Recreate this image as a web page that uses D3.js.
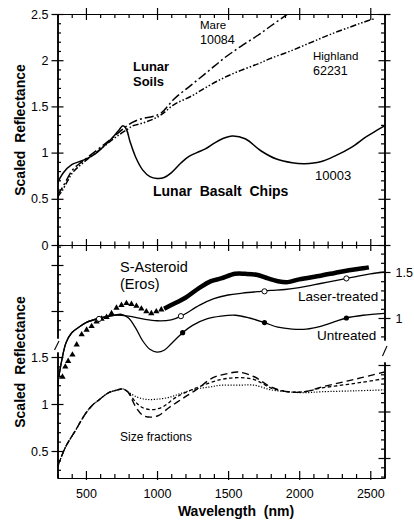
<!DOCTYPE html>
<html>
<head>
<meta charset="utf-8">
<script src="https://cdn.jsdelivr.net/npm/d3@7"></script>
<style>
body { margin: 0; background: #fff; }
svg { display: block; }
text { font-family: "Liberation Sans", Arial, Helvetica, sans-serif; fill: #000; }
.axis path, .axis line { stroke: #000; stroke-width: 1.2; }
.axis text { font-size: 12.5px; font-family: "Liberation Sans", Arial, sans-serif; }
</style>
</head>
<body>
<svg id="chart" width="414" height="521"></svg>
<script>
// [wavelength nm, scaled reflectance]  -- top panel
const basalt10003 = [[300,0.67],[340,0.78],[400,0.87],[450,0.90],[500,0.93],[560,0.98],[620,1.06],[680,1.15],[730,1.24],[760,1.29],[785,1.25],[810,1.12],[850,0.95],[900,0.81],[950,0.74],[1000,0.72],[1050,0.73],[1100,0.78],[1170,0.89],[1225,0.96],[1280,1.00],[1340,1.04],[1400,1.10],[1460,1.15],[1530,1.18],[1620,1.15],[1730,1.02],[1840,0.93],[1950,0.89],[2040,0.88],[2150,0.90],[2260,0.97],[2370,1.06],[2470,1.17],[2545,1.24],[2600,1.29]];
const mare10084 = [[300,0.54],[330,0.61],[370,0.72],[410,0.82],[480,0.91],[580,1.03],[670,1.14],[740,1.23],[790,1.29],[830,1.33],[900,1.37],[970,1.39],[1030,1.43],[1120,1.58],[1240,1.73],[1360,1.88],[1470,2.02],[1590,2.15],[1710,2.27],[1800,2.37],[1910,2.49],[1950,2.53]];
const highland62231 = [[300,0.52],[330,0.58],[370,0.69],[410,0.79],[480,0.89],[580,1.01],[670,1.12],[740,1.20],[790,1.25],[830,1.29],[900,1.32],[970,1.36],[1030,1.41],[1120,1.52],[1240,1.61],[1360,1.72],[1470,1.81],[1590,1.89],[1710,1.96],[1800,2.02],[1940,2.10],[2080,2.19],[2220,2.28],[2360,2.36],[2450,2.41],[2530,2.45]];

// bottom panel, upper group (right-hand scale)
const laserTreated = [[300,0.27],[330,0.54],[360,0.73],[400,0.84],[450,0.90],[500,0.95],[600,1.00],[700,1.03],[800,1.02],[900,0.99],[1000,0.97],[1100,0.98],[1170,1.02],[1300,1.14],[1400,1.21],[1500,1.25],[1600,1.27],[1730,1.29],[1800,1.30],[1900,1.31],[2000,1.33],[2100,1.36],[2200,1.39],[2300,1.42],[2400,1.45],[2500,1.48],[2600,1.50]];
const laserMarks = [[592,0.99],[1168,1.02],[1756,1.29],[2332,1.43]];
const untreated = [[300,0.27],[330,0.54],[360,0.73],[400,0.84],[450,0.90],[500,0.95],[600,1.00],[700,1.03],[750,1.04],[800,1.00],[850,0.89],[900,0.75],[950,0.66],[1000,0.63],[1050,0.65],[1100,0.72],[1180,0.84],[1250,0.92],[1350,0.99],[1450,1.02],[1550,1.03],[1650,1.00],[1756,0.95],[1850,0.90],[1950,0.88],[2050,0.88],[2150,0.91],[2250,0.96],[2332,1.00],[2450,1.03],[2600,1.05]];
const untreatedMarks = [[1180,0.84],[1756,0.95],[2332,1.00]];
const erosTelescopic = [[335,0.36],[355,0.47],[375,0.53],[405,0.60],[435,0.71],[470,0.82],[505,0.87],[540,0.91],[575,0.96],[610,0.99],[645,1.01],[680,1.05],[715,1.11],[750,1.14],[785,1.16],[820,1.15],[855,1.13],[890,1.10],[925,1.07],[960,1.05],[995,1.07],[1030,1.09]];
const erosNIS = [[1050,1.10],[1100,1.14],[1200,1.22],[1300,1.33],[1380,1.40],[1450,1.43],[1550,1.48],[1620,1.48],[1700,1.47],[1780,1.43],[1850,1.40],[1920,1.39],[2000,1.42],[2150,1.46],[2250,1.49],[2350,1.52],[2450,1.54],[2490,1.55]];

// bottom panel, lower group (left-hand scale): size fractions
const sizeFine = [[300,0.33],[356,0.54],[427,0.72],[498,0.90],[547,0.99],[589,1.04],[660,1.12],[723,1.15],[759,1.16],[794,1.13],[850,1.08],[921,1.05],[992,1.05],[1083,1.07],[1182,1.12],[1274,1.16],[1366,1.18],[1450,1.20],[1570,1.20],[1683,1.20],[1803,1.15],[1923,1.13],[2036,1.12],[2156,1.13],[2389,1.14],[2600,1.15]];
const sizeMid = [[300,0.33],[356,0.54],[427,0.72],[498,0.90],[547,0.99],[589,1.04],[660,1.12],[723,1.15],[759,1.16],[794,1.13],[850,1.02],[900,0.96],[970,0.94],[1041,0.97],[1133,1.07],[1274,1.17],[1450,1.26],[1570,1.28],[1683,1.26],[1803,1.17],[1923,1.13],[2036,1.13],[2156,1.17],[2297,1.20],[2438,1.23],[2600,1.27]];
const sizeCoarse = [[300,0.33],[356,0.54],[427,0.72],[498,0.90],[547,0.99],[589,1.04],[660,1.12],[723,1.15],[759,1.16],[794,1.13],[850,0.97],[900,0.88],[956,0.86],[1013,0.88],[1083,0.96],[1182,1.06],[1274,1.15],[1394,1.28],[1486,1.32],[1570,1.34],[1683,1.29],[1803,1.18],[1923,1.13],[2036,1.13],[2156,1.18],[2297,1.23],[2438,1.28],[2600,1.34]];

const xMajors = [500, 1000, 1500, 2000, 2500];
const xMinors = d3.range(3, 27).map(i => i * 100).filter(v => v % 500 !== 0);
const topMajors = [0, 0.5, 1, 1.5, 2, 2.5];

const svg = d3.select("#chart");
const L = 57.5, R = 384.5, T = 14, MID = 245, B = 478;

const x = d3.scaleLinear().domain([300, 2600]).range([L, R]);
const yTop = d3.scaleLinear().domain([0, 2.5]).range([MID, T]);
const yAst = d3.scaleLinear().domain([1, 1.5]).range([318, 272]);
const yAstLeft = d3.scaleLinear().domain([1, 1.5]).range([311, 265]);
const yLow = d3.scaleLinear().domain([0.5, 1.5]).range([451, 357]);
const yLowRight = d3.scaleLinear().domain([0.5, 1.5]).range([458, 365]);

const fmt = d3.format("~g");

// clip areas
const defs = svg.append("defs");
defs.append("clipPath").attr("id", "clipTop").append("rect")
    .attr("x", L).attr("y", T).attr("width", R - L).attr("height", MID - T);
defs.append("clipPath").attr("id", "clipBot").append("rect")
    .attr("x", L).attr("y", MID).attr("width", R - L).attr("height", B - MID);

// segment of a scale between two pixel positions
function segment(scale, p0, p1) {
    return scale.copy().domain([scale.invert(p0), scale.invert(p1)]).range([p0, p1]);
}

function minorsOf(s, step) {
    const [a, b] = d3.extent(s.domain());
    const out = [];
    for (let i = Math.ceil(a / step - 1e-6); i <= Math.floor(b / step + 1e-6); i++) {
        const v = +(i * step).toFixed(3);
        if (Math.abs(v / 0.5 - Math.round(v / 0.5)) > 1e-6) out.push(v);
    }
    return out;
}

function vAxis(side, s, xPos, majors, labelled) {
    const mk = side === "left" ? d3.axisLeft : d3.axisRight;
    const inMaj = majors.filter(v => v >= d3.min(s.domain()) - 1e-6 && v <= d3.max(s.domain()) + 1e-6);
    const g = svg.append("g").attr("class", "axis").attr("transform", `translate(${xPos},0)`);
    g.append("g").call(mk(s).tickValues(inMaj).tickSizeInner(6).tickSizeOuter(0).tickPadding(3)
        .tickFormat(labelled ? fmt : ""));
    g.append("g").call(mk(s).tickValues(inMaj).tickSizeInner(-6).tickSizeOuter(0).tickFormat(""));
    g.append("g").call(mk(s).tickValues(minorsOf(s, 0.1)).tickSizeInner(-3.5).tickSizeOuter(0).tickFormat(""));
    g.selectAll("text").style("font-size", "12.5px");
    return g;
}

function hAxis(yPos, upOut, upIn, downMaj, downMin, labelled) {
    const g = svg.append("g").attr("class", "axis").attr("transform", `translate(0,${yPos})`);
    // upward ticks use negative size on axisBottom
    g.append("g").call(d3.axisBottom(x).tickValues(xMajors).tickSizeInner(-upOut).tickSizeOuter(0).tickFormat(""));
    g.append("g").call(d3.axisBottom(x).tickValues(xMinors).tickSizeInner(-upIn).tickSizeOuter(0).tickFormat(""));
    const lab = g.append("g").call(d3.axisBottom(x).tickValues(xMajors).tickSizeInner(downMaj).tickSizeOuter(0)
        .tickPadding(labelled ? 9 : 3).tickFormat(labelled ? fmt : ""));
    if (downMin) g.append("g").call(d3.axisBottom(x).tickValues(xMinors).tickSizeInner(downMin).tickSizeOuter(0).tickFormat(""));
    lab.selectAll("text").style("font-size", "12.5px");
    return g;
}

// top panel axes
vAxis("left", yTop, L, topMajors, true);
vAxis("right", yTop, R, topMajors, false);
hAxis(T, 6, 0, 6, 4, false);
hAxis(MID, 6, 3.5, 6, 3.5, false);

// bottom panel axes (broken)
vAxis("left", segment(yAstLeft, MID, 338), L, [1, 1.5], false);
vAxis("left", segment(yLow, 352, B), L, [0.5, 1, 1.5], true);
vAxis("right", segment(yAst, MID, 340), R, [1, 1.5], true)
    .selectAll("text").attr("x", 11);
vAxis("right", segment(yLowRight, 362, B), R, [0.5, 1, 1.5], false);
hAxis(B, 7, 4, 2, 0, true);

// axis break marks
svg.append("line").attr("x1", L - 3).attr("y1", 350).attr("x2", L + 1.5).attr("y2", 341)
    .attr("stroke", "#000").attr("stroke-width", 1.1);
svg.append("line").attr("x1", R - 2).attr("y1", 356).attr("x2", R + 2.5).attr("y2", 346)
    .attr("stroke", "#000").attr("stroke-width", 1.1);

// curves
function curve(yScale) {
    return d3.line().x(d => x(d[0])).y(d => yScale(d[1])).curve(d3.curveCatmullRom.alpha(0.5));
}
const gTop = svg.append("g").attr("clip-path", "url(#clipTop)");
const gBot = svg.append("g").attr("clip-path", "url(#clipBot)");

function drawLine(g, data, yScale, width, dash) {
    return g.append("path").datum(data).attr("d", curve(yScale))
        .attr("fill", "none").attr("stroke", "#000").attr("stroke-width", width)
        .attr("stroke-dasharray", dash || null);
}

drawLine(gTop, basalt10003, yTop, 1.5);
drawLine(gTop, mare10084, yTop, 1.5, "9,3,2,3");
drawLine(gTop, highland62231, yTop, 1.5, "6,2,1.5,2,1.5,2");

drawLine(gBot, laserTreated, yAst, 1.3);
drawLine(gBot, untreated, yAst, 1.3);
drawLine(gBot, erosNIS, yAst, 4.5).attr("stroke-linecap", "butt");

gBot.selectAll("path.tri").data(erosTelescopic).join("path").attr("class", "tri")
    .attr("d", d3.symbol(d3.symbolTriangle).size(17))
    .attr("transform", d => `translate(${x(d[0])},${yAst(d[1])})`)
    .attr("fill", "#000");
gBot.selectAll("circle.open").data(laserMarks).join("circle").attr("class", "open")
    .attr("cx", d => x(d[0])).attr("cy", d => yAst(d[1])).attr("r", 2.6)
    .attr("fill", "#fff").attr("stroke", "#000").attr("stroke-width", 1);
gBot.selectAll("circle.filled").data(untreatedMarks).join("circle").attr("class", "filled")
    .attr("cx", d => x(d[0])).attr("cy", d => yAst(d[1])).attr("r", 2.6)
    .attr("fill", "#000");

drawLine(gBot, sizeCoarse, yLow, 1.4, "7,4");
drawLine(gBot, sizeMid, yLow, 1.3, "3.5,2.5");
drawLine(gBot, sizeFine, yLow, 1.2, "1.2,1.6");

// labels
function label(txt, px, py, size, bold, anchor) {
    return svg.append("text").attr("x", px).attr("y", py).text(txt)
        .style("font-size", size + "px").style("font-weight", bold ? "bold" : "normal")
        .attr("text-anchor", anchor || "start");
}
label("Mare", 200, 29, 11.5);
label("10084", 200, 44, 12.5);
label("Lunar", 133, 71, 13, true);
label("Soils", 133, 86, 13, true);
label("Highland", 313, 60, 11.5);
label("62231", 313, 75, 12.5);
label("Lunar  Basalt  Chips", 153, 196, 14, true).style("white-space", "pre");
label("10003", 315, 180, 13);
label("S-Asteroid", 120, 272, 14.5);
label("(Eros)", 120, 289, 14.5);
label("Laser-treated", 298, 301, 13.5);
label("Untreated", 317, 340, 13.5);
label("Size fractions", 120, 441, 12);
label("Wavelength  (nm)", 236, 516, 14, true, "middle").style("white-space", "pre");

svg.append("text").attr("transform", "translate(25,130) rotate(-90)").attr("text-anchor", "middle")
    .style("font-size", "14px").style("font-weight", "bold").style("white-space", "pre")
    .text("Scaled  Reflectance");
svg.append("text").attr("transform", "translate(25,362) rotate(-90)").attr("text-anchor", "middle")
    .style("font-size", "14px").style("font-weight", "bold").style("white-space", "pre")
    .text("Scaled  Reflectance");
</script>
</body>
</html>
